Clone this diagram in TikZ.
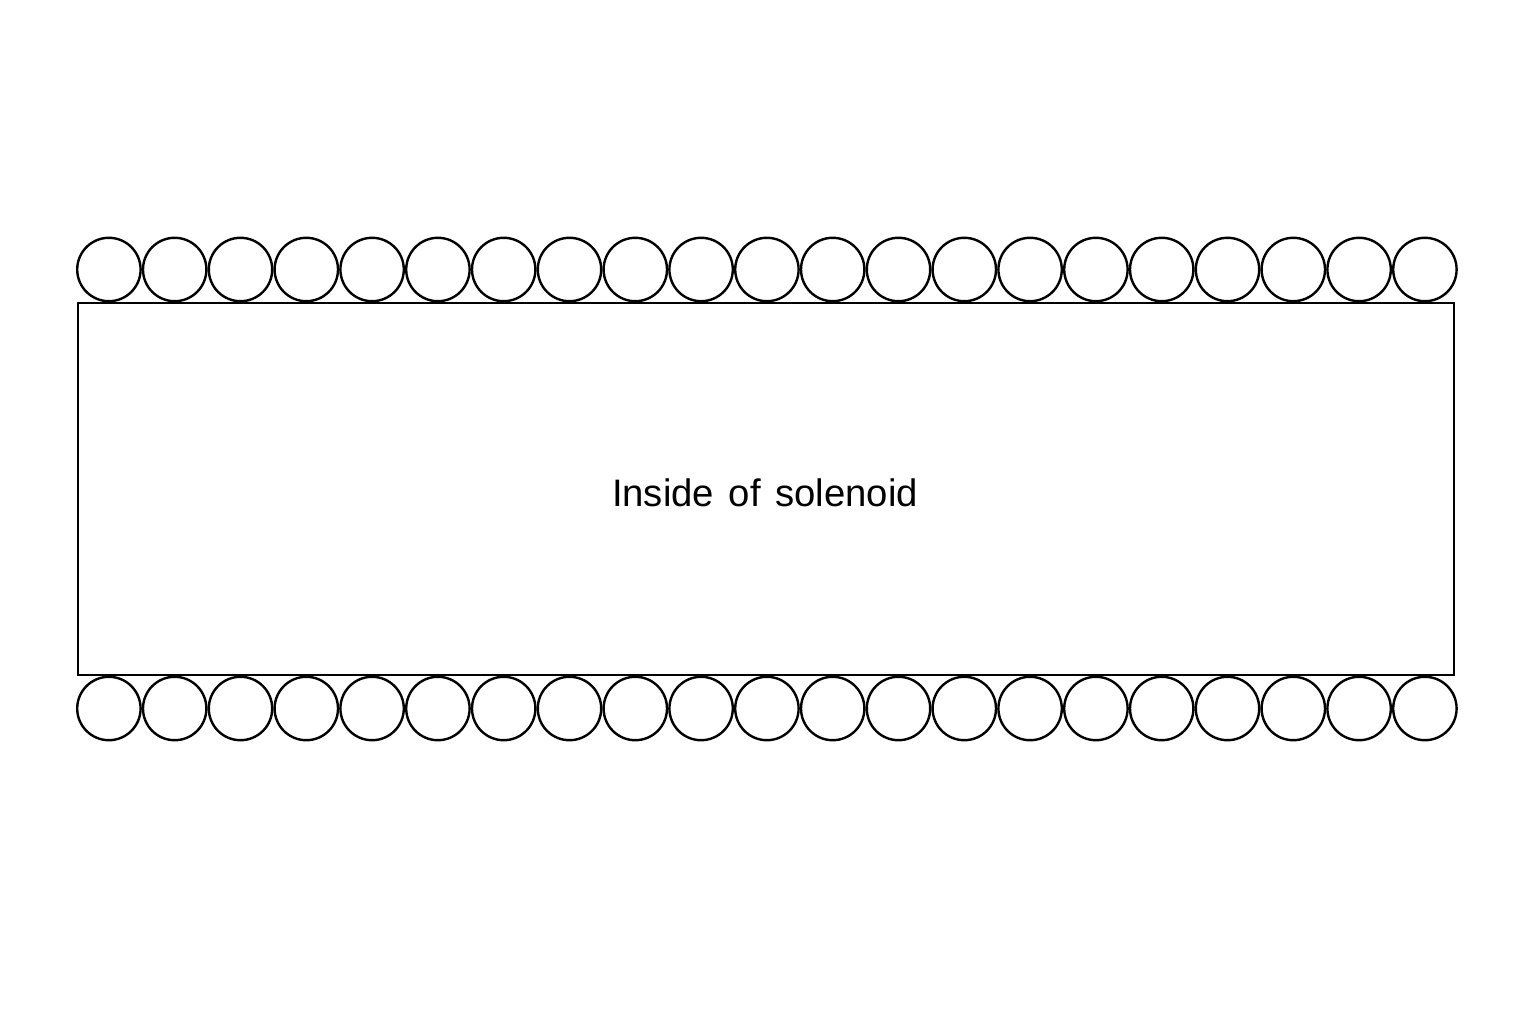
\documentclass[tikz,border=0pt]{standalone}
\usepackage{fontspec}
\setmainfont{Liberation Sans}
\begin{document}
\begin{tikzpicture}[x=1pt,y=-1pt,
  wire/.style={circle,draw=black,line width=2.4pt,minimum size=63.4pt,inner sep=0pt,fill=white},
  core/.style={draw=black,line width=2.4pt,minimum width=1376pt,minimum height=372pt,inner sep=0pt}]
\useasboundingbox[fill=white] (0,0) rectangle (1536,1024);
\node[core] (core) at (766,489) {};
\node[font=\fontsize{38.3}{40}\selectfont] (label) at (765,493) {Inside\hspace{0.38em}of\hspace{0.38em}solenoid};
\foreach \i in {0,...,20} {
  \node[wire] (t\i) at ({108.9+65.8*\i},269.5) {};
  \node[wire] (b\i) at ({108.9+65.8*\i},708.5) {};
}
\end{tikzpicture}
\end{document}
